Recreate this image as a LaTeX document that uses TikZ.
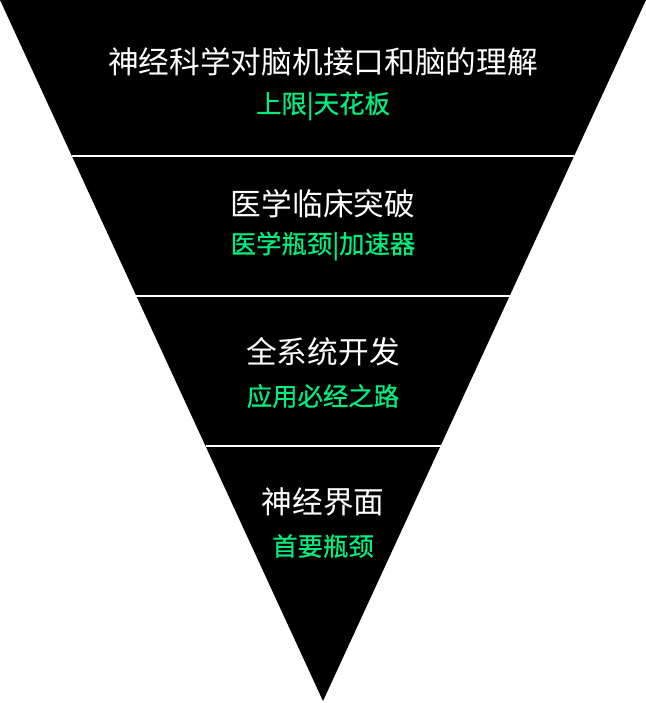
\documentclass[tikz,border=0pt]{standalone}
\usepackage{fontspec}
\usetikzlibrary{calc}
\newfontfamily\cjk{Noto Sans CJK SC}
\newfontfamily\cjkg[FakeBold=0.6]{Noto Sans CJK SC}
\definecolor{tgreen}{HTML}{00EE7E}
\begin{document}
\begin{tikzpicture}[x=1bp,y=-1bp,
  title/.style={text=white,font=\cjk\fontsize{30.8}{34}\selectfont,inner sep=0pt},
  sub/.style={text=tgreen,font=\cjkg\fontsize{25.5}{29}\selectfont,inner sep=0pt},
  sep/.style={draw=white,line width=1.3bp}]
\useasboundingbox (0,0) rectangle (646,703);
\coordinate (tl) at (0,0);
\coordinate (tr) at (646,0);
\coordinate (ap) at (323,701);
\fill[black] (tl) -- (tr) -- (ap) -- cycle;
\foreach \yy/\nm in {156/a,296/b,446/c}{
  \coordinate (\nm l) at ($(tl)!\yy/701!(ap)$);
  \coordinate (\nm r) at ($(tr)!\yy/701!(ap)$);
  \draw[sep] (\nm l) -- (\nm r);
}
\node[title] (t1) at (323,62) {神经科学对脑机接口和脑的理解};
\node[sub] (s1) at (323,106) {上限|天花板};
\node[title] (t2) at (323,204) {医学临床突破};
\node[sub] (s2) at (323,246) {医学瓶颈|加速器};
\node[title] (t3) at (323,352) {全系统开发};
\node[sub] (s3) at (323,396) {应用必经之路};
\node[title] (t4) at (323,502) {神经界面};
\node[sub] (s4) at (323,546) {首要瓶颈};
\end{tikzpicture}
\end{document}
